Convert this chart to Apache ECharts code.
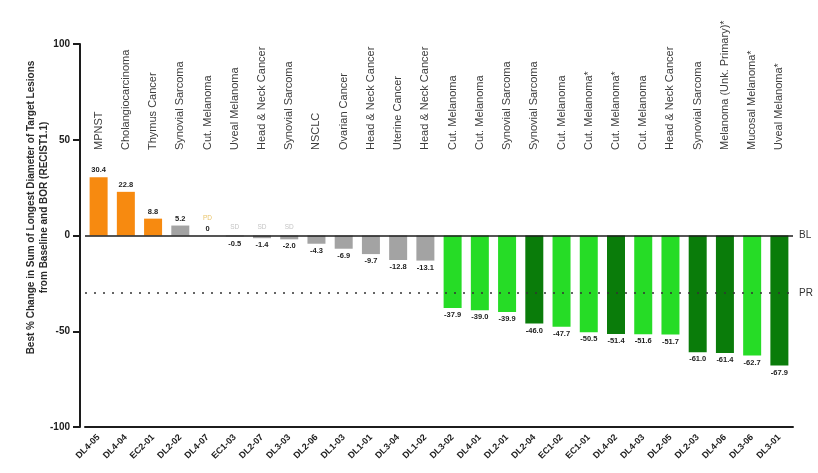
<!DOCTYPE html>
<html>
<head>
<meta charset="utf-8">
<script src="https://cdn.jsdelivr.net/npm/echarts@6/dist/echarts.min.js"></script>
<style>
  html, body { margin: 0; padding: 0; background: #fff; }
  #chart { width: 818px; height: 473px; }
</style>
</head>
<body>
<div id="chart"></div>
<script>
// Patient cohort IDs, ordered from largest growth to deepest shrinkage
const patients = ['DL4-05','DL4-04','EC2-01','DL2-02','DL4-07','EC1-03','DL2-07','DL3-03','DL2-06','DL1-03','DL1-01','DL3-04','DL1-02',
  'DL3-02','DL4-01','DL2-01','DL2-04','EC1-02','EC1-01','DL4-02','DL4-03','DL2-05','DL2-03','DL4-06','DL3-06','DL3-01'];

// Tumour type per patient
const tumours = ['MPNST','Cholangiocarcinoma','Thymus Cancer','Synovial Sarcoma','Cut. Melanoma','Uveal Melanoma','Head & Neck Cancer',
  'Synovial Sarcoma','NSCLC','Ovarian Cancer','Head & Neck Cancer','Uterine Cancer','Head & Neck Cancer','Cut. Melanoma','Cut. Melanoma',
  'Synovial Sarcoma','Synovial Sarcoma','Cut. Melanoma','Cut. Melanoma*','Cut. Melanoma*','Cut. Melanoma','Head & Neck Cancer',
  'Synovial Sarcoma','Melanoma (Unk. Primary)*','Mucosal Melanoma*','Uveal Melanoma*'];

// Best % change in sum of longest diameters
const bestChange = [30.4, 22.8, 8.8, 5.2, 0, -0.5, -1.4, -2.0, -4.3, -6.9, -9.7, -12.8, -13.1,
  -37.9, -39.0, -39.9, -46.0, -47.7, -50.5, -51.4, -51.6, -51.7, -61.0, -61.4, -62.7, -67.9];

// Response group per patient (drives bar colour)
const responseGroup = ['PD','PD','PD','SD','PD','SD','SD','SD','SD','SD','SD','SD','SD',
  'PR','PR','PR','PR+','PR','PR','PR+','PR','PR','PR+','PR+','PR','PR+'];

// Small BOR tags printed above the baseline
const borTags = ['','','','','PD','SD','SD','SD','','','','','','','','','','','','','','','','','',''];

// Reference lines: baseline and partial-response threshold
const refLines = [{ name: 'BL', value: 0 }, { name: 'PR', value: -30 }];

const groupColors = { 'PD': '#F78A10', 'SD': '#A3A3A3', 'PR': '#26DC26', 'PR+': '#0A7C0A' };
const ink = '#1c1c1c';
const font = 'Liberation Sans, Arial, sans-serif';

const chart = echarts.init(document.getElementById('chart'), null, { renderer: 'canvas' });

const gridLeft = 85, gridRight = 25;

const barData = bestChange.map((v, i) => ({
  value: v,
  itemStyle: { color: groupColors[responseGroup[i]] },
  label: { position: v < 0 ? 'bottom' : 'top' }
}));

const tagData = borTags.map(t => ({
  value: 0,
  label: {
    show: t !== '',
    formatter: t,
    color: t === 'PD' ? '#E9C46A' : '#C4C4C4',
    distance: t === 'PD' ? 14 : 5
  }
}));

chart.setOption({
  animation: false,
  backgroundColor: '#ffffff',
  grid: [
    { left: gridLeft, right: gridRight, top: 44, bottom: 46 },
    { left: gridLeft, right: gridRight, top: 152, height: 10 }
  ],
  xAxis: [
    {
      type: 'category',
      gridIndex: 0,
      data: patients,
      axisLine: { onZero: false, lineStyle: { color: ink, width: 2 } },
      axisTick: { alignWithLabel: true, length: 6, lineStyle: { color: ink, width: 2 } },
      axisLabel: {
        interval: 0, rotate: 45, margin: 9,
        fontFamily: font, fontSize: 9, fontWeight: 'bold', color: ink
      }
    },
    {
      type: 'category',
      gridIndex: 1,
      position: 'top',
      data: tumours,
      axisLine: { show: false },
      axisTick: { show: false },
      axisLabel: {
        interval: 0, rotate: 90, margin: 2, hideOverlap: false,
        fontFamily: font, fontSize: 11, color: '#3d3d3d'
      }
    }
  ],
  yAxis: [
    {
      type: 'value',
      gridIndex: 0,
      position: 'left',
      min: -100, max: 100, interval: 50,
      offset: 5,
      splitLine: { show: false },
      axisLine: { show: true, lineStyle: { color: ink, width: 2 } },
      axisTick: { show: true, inside: false, length: 7, lineStyle: { color: ink, width: 2 } },
      axisLabel: { fontFamily: font, fontSize: 10, fontWeight: 'bold', color: ink, margin: 10 }
    },
    { type: 'value', gridIndex: 1, show: false },
    {
      // carries only the axis title
      type: 'value',
      gridIndex: 0,
      position: 'left',
      min: -100, max: 100,
      offset: 5,
      splitLine: { show: false },
      axisLine: { show: false },
      axisTick: { show: false },
      axisLabel: { show: false },
      name: 'Best % Change in Sum of Longest Diameter of Target Lesions\nfrom Baseline and BOR (RECIST1.1)',
      nameLocation: 'middle',
      nameRotate: 90,
      nameGap: 29,
      nameTextStyle: {
        fontFamily: font, fontSize: 10, fontWeight: 'bold', color: '#2a2a2a',
        lineHeight: 13, padding: [0, 0, 0, 56]
      }
    }
  ],
  series: [
    {
      type: 'bar',
      xAxisIndex: 0, yAxisIndex: 0,
      barWidth: 18,
      data: barData,
      label: {
        show: true,
        distance: 3,
        fontFamily: font, fontSize: 7.5, fontWeight: 'bold', color: '#222',
        formatter: p => (p.value === 0 ? '0' : p.value.toFixed(1))
      },
      markLine: {
        silent: true,
        symbol: 'none',
        data: refLines.map(r => ({
          yAxis: r.value,
          lineStyle: r.value === 0
            ? { type: 'solid', color: ink, width: 1.5 }
            : { type: [2, 7], color: '#333', width: 1.5 },
          label: { formatter: r.name }
        })),
        label: { position: 'end', distance: 6, fontFamily: font, fontSize: 10, color: '#333' }
      },
      z: 3
    },
    {
      type: 'bar',
      xAxisIndex: 0, yAxisIndex: 0,
      barWidth: 18,
      barGap: '-100%',
      data: tagData,
      itemStyle: { color: 'transparent' },
      label: { position: 'top', fontFamily: font, fontSize: 6.5 },
      silent: true,
      z: 4
    }
  ]
});
</script>
</body>
</html>
